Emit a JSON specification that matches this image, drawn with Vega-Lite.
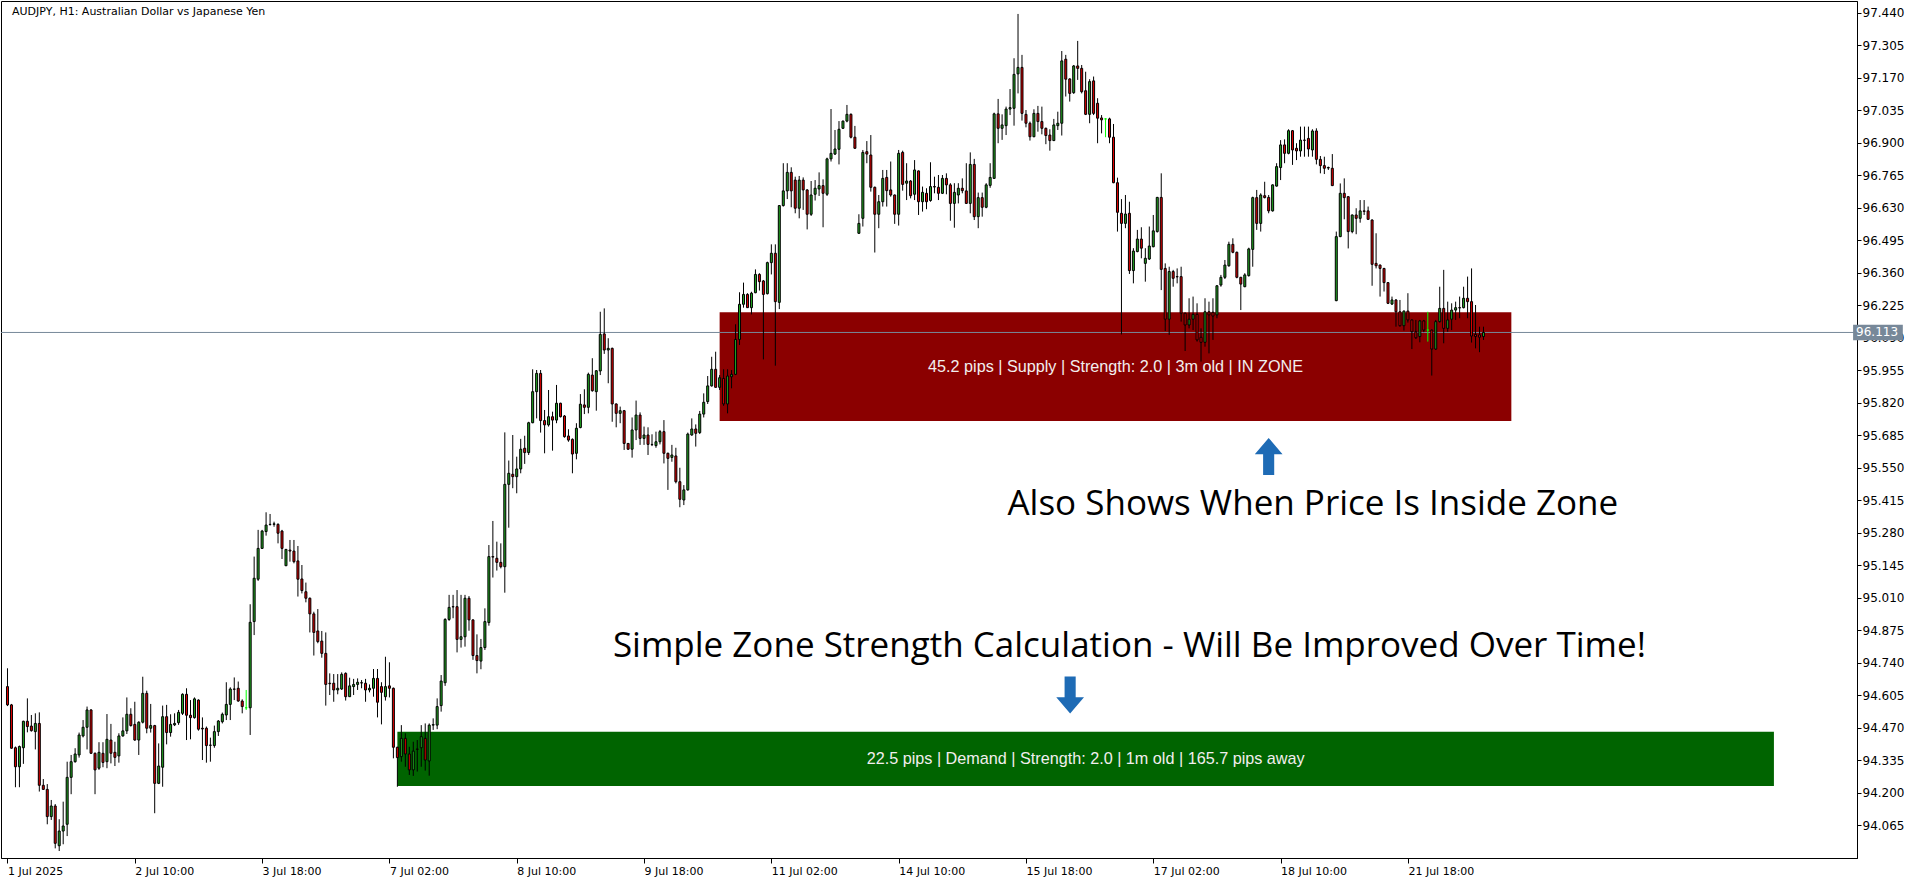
{
"$schema":"https://vega.github.io/schema/vega-lite/v6.json",
"width":1856,"height":857,
"autosize":{"type":"none"},
"padding":{"left":1,"top":1,"right":63,"bottom":25},
"background":"#ffffff",
"config":{"view":{"stroke":"#000000","strokeWidth":1},"axis":{"grid":false,"labelFont":"DejaVu Sans","labelFontSize":11,"labelColor":"#000000","domainColor":"#000000","tickColor":"#000000","labelFlush":false,"labelOverlap":false}},
"datasets":{
"zones":[{"kind":"Supply","i1":179,"i2":378,"p1":96.197,"p2":95.745},{"kind":"Demand","i1":98,"i2":444,"p1":94.454,"p2":94.229}],
"notes":[
{"kind":"zone","i":278.5,"p":95.971,"text":"45.2 pips | Supply | Strength: 2.0 | 3m old | IN ZONE"},
{"kind":"zone","i":271,"p":94.3415,"text":"22.5 pips | Demand | Strength: 2.0 | 1m old | 165.7 pips away"},
{"kind":"big","i":328.1,"p":95.353,"text":"Also Shows When Price Is Inside Zone"},
{"kind":"big","i":282.0,"p":94.763,"text":"Simple Zone Strength Calculation - Will Be Improved Over Time!"},
{"kind":"up","i":317,"p":95.598,"text":""},
{"kind":"down","i":267.1,"p":94.607,"text":""}],
"candles":[
{"i":0,"o":94.642,"h":94.718,"l":94.561,"c":94.566},
{"i":1,"o":94.566,"h":94.570,"l":94.384,"c":94.386},
{"i":2,"o":94.388,"h":94.393,"l":94.224,"c":94.309},
{"i":3,"o":94.309,"h":94.397,"l":94.224,"c":94.393},
{"i":4,"o":94.388,"h":94.500,"l":94.321,"c":94.498},
{"i":5,"o":94.498,"h":94.593,"l":94.452,"c":94.476},
{"i":6,"o":94.478,"h":94.524,"l":94.455,"c":94.459},
{"i":7,"o":94.455,"h":94.531,"l":94.381,"c":94.489},
{"i":8,"o":94.489,"h":94.535,"l":94.206,"c":94.232},
{"i":9,"o":94.232,"h":94.258,"l":94.213,"c":94.215},
{"i":10,"o":94.215,"h":94.237,"l":94.070,"c":94.102},
{"i":11,"o":94.102,"h":94.171,"l":94.088,"c":94.146},
{"i":12,"o":94.146,"h":94.154,"l":93.970,"c":93.991},
{"i":13,"o":93.981,"h":94.091,"l":93.959,"c":94.042},
{"i":14,"o":94.042,"h":94.164,"l":93.987,"c":94.063},
{"i":15,"o":94.070,"h":94.330,"l":94.021,"c":94.265},
{"i":16,"o":94.265,"h":94.358,"l":94.195,"c":94.330},
{"i":17,"o":94.330,"h":94.386,"l":94.326,"c":94.362},
{"i":18,"o":94.358,"h":94.451,"l":94.347,"c":94.441},
{"i":19,"o":94.437,"h":94.503,"l":94.431,"c":94.473},
{"i":20,"o":94.473,"h":94.559,"l":94.381,"c":94.545},
{"i":21,"o":94.545,"h":94.548,"l":94.362,"c":94.365},
{"i":22,"o":94.365,"h":94.368,"l":94.195,"c":94.296},
{"i":23,"o":94.303,"h":94.411,"l":94.296,"c":94.369},
{"i":24,"o":94.365,"h":94.411,"l":94.307,"c":94.327},
{"i":25,"o":94.330,"h":94.528,"l":94.303,"c":94.423},
{"i":26,"o":94.420,"h":94.487,"l":94.323,"c":94.365},
{"i":27,"o":94.369,"h":94.413,"l":94.312,"c":94.348},
{"i":28,"o":94.354,"h":94.448,"l":94.326,"c":94.437},
{"i":29,"o":94.437,"h":94.514,"l":94.434,"c":94.458},
{"i":30,"o":94.458,"h":94.597,"l":94.445,"c":94.527},
{"i":31,"o":94.527,"h":94.552,"l":94.476,"c":94.480},
{"i":32,"o":94.485,"h":94.579,"l":94.417,"c":94.420},
{"i":33,"o":94.420,"h":94.498,"l":94.358,"c":94.494},
{"i":34,"o":94.494,"h":94.683,"l":94.489,"c":94.614},
{"i":35,"o":94.614,"h":94.625,"l":94.448,"c":94.469},
{"i":36,"o":94.469,"h":94.570,"l":94.451,"c":94.480},
{"i":37,"o":94.480,"h":94.483,"l":94.116,"c":94.240},
{"i":38,"o":94.240,"h":94.406,"l":94.237,"c":94.312},
{"i":39,"o":94.307,"h":94.563,"l":94.226,"c":94.517},
{"i":40,"o":94.517,"h":94.566,"l":94.402,"c":94.451},
{"i":41,"o":94.451,"h":94.527,"l":94.434,"c":94.485},
{"i":42,"o":94.483,"h":94.531,"l":94.478,"c":94.489},
{"i":43,"o":94.492,"h":94.545,"l":94.483,"c":94.535},
{"i":44,"o":94.531,"h":94.614,"l":94.524,"c":94.610},
{"i":45,"o":94.610,"h":94.635,"l":94.420,"c":94.523},
{"i":46,"o":94.523,"h":94.586,"l":94.423,"c":94.513},
{"i":47,"o":94.513,"h":94.597,"l":94.509,"c":94.591},
{"i":48,"o":94.586,"h":94.589,"l":94.459,"c":94.465},
{"i":49,"o":94.469,"h":94.514,"l":94.337,"c":94.466},
{"i":50,"o":94.469,"h":94.476,"l":94.326,"c":94.397},
{"i":51,"o":94.399,"h":94.430,"l":94.330,"c":94.398},
{"i":52,"o":94.397,"h":94.480,"l":94.388,"c":94.455},
{"i":53,"o":94.455,"h":94.503,"l":94.437,"c":94.499},
{"i":54,"o":94.496,"h":94.534,"l":94.489,"c":94.527},
{"i":55,"o":94.524,"h":94.660,"l":94.503,"c":94.568},
{"i":56,"o":94.568,"h":94.639,"l":94.503,"c":94.632},
{"i":57,"o":94.632,"h":94.680,"l":94.586,"c":94.631},
{"i":58,"o":94.635,"h":94.663,"l":94.579,"c":94.582},
{"i":59,"o":94.582,"h":94.589,"l":94.531,"c":94.559},
{"i":60,"o":94.554,"h":94.628,"l":94.545,"c":94.554},
{"i":61,"o":94.554,"h":94.984,"l":94.441,"c":94.909},
{"i":62,"o":94.912,"h":95.182,"l":94.856,"c":95.092},
{"i":63,"o":95.088,"h":95.293,"l":95.081,"c":95.216},
{"i":64,"o":95.216,"h":95.293,"l":95.214,"c":95.288},
{"i":65,"o":95.286,"h":95.366,"l":95.269,"c":95.313},
{"i":66,"o":95.315,"h":95.359,"l":95.311,"c":95.316},
{"i":67,"o":95.316,"h":95.327,"l":95.306,"c":95.318},
{"i":68,"o":95.316,"h":95.320,"l":95.237,"c":95.279},
{"i":69,"o":95.288,"h":95.293,"l":95.172,"c":95.216},
{"i":70,"o":95.144,"h":95.212,"l":95.144,"c":95.212},
{"i":71,"o":95.209,"h":95.251,"l":95.161,"c":95.205},
{"i":72,"o":95.205,"h":95.251,"l":95.154,"c":95.161},
{"i":73,"o":95.164,"h":95.226,"l":95.016,"c":95.088},
{"i":74,"o":95.089,"h":95.147,"l":95.029,"c":95.041},
{"i":75,"o":95.036,"h":95.074,"l":94.992,"c":95.009},
{"i":76,"o":95.009,"h":95.012,"l":94.867,"c":94.944},
{"i":77,"o":94.944,"h":94.953,"l":94.771,"c":94.867},
{"i":78,"o":94.873,"h":94.964,"l":94.822,"c":94.829},
{"i":79,"o":94.831,"h":94.873,"l":94.762,"c":94.780},
{"i":80,"o":94.780,"h":94.867,"l":94.563,"c":94.651},
{"i":81,"o":94.656,"h":94.697,"l":94.607,"c":94.654},
{"i":82,"o":94.656,"h":94.694,"l":94.579,"c":94.628},
{"i":83,"o":94.628,"h":94.694,"l":94.610,"c":94.635},
{"i":84,"o":94.632,"h":94.701,"l":94.628,"c":94.693},
{"i":85,"o":94.697,"h":94.701,"l":94.584,"c":94.600},
{"i":86,"o":94.600,"h":94.679,"l":94.600,"c":94.645},
{"i":87,"o":94.642,"h":94.674,"l":94.607,"c":94.651},
{"i":88,"o":94.651,"h":94.676,"l":94.628,"c":94.660},
{"i":89,"o":94.658,"h":94.669,"l":94.635,"c":94.657},
{"i":90,"o":94.656,"h":94.674,"l":94.579,"c":94.628},
{"i":91,"o":94.628,"h":94.651,"l":94.618,"c":94.635},
{"i":92,"o":94.635,"h":94.715,"l":94.600,"c":94.676},
{"i":93,"o":94.676,"h":94.715,"l":94.514,"c":94.577},
{"i":94,"o":94.642,"h":94.660,"l":94.485,"c":94.618},
{"i":95,"o":94.600,"h":94.766,"l":94.584,"c":94.642},
{"i":96,"o":94.645,"h":94.743,"l":94.597,"c":94.635},
{"i":97,"o":94.635,"h":94.638,"l":94.344,"c":94.390},
{"i":98,"o":94.390,"h":94.392,"l":94.226,"c":94.347},
{"i":99,"o":94.351,"h":94.482,"l":94.330,"c":94.427},
{"i":100,"o":94.427,"h":94.448,"l":94.309,"c":94.362},
{"i":101,"o":94.362,"h":94.392,"l":94.275,"c":94.296},
{"i":102,"o":94.296,"h":94.413,"l":94.271,"c":94.374},
{"i":103,"o":94.383,"h":94.420,"l":94.289,"c":94.381},
{"i":104,"o":94.388,"h":94.482,"l":94.309,"c":94.434},
{"i":105,"o":94.427,"h":94.489,"l":94.293,"c":94.337},
{"i":106,"o":94.333,"h":94.489,"l":94.272,"c":94.482},
{"i":107,"o":94.482,"h":94.510,"l":94.462,"c":94.484},
{"i":108,"o":94.482,"h":94.593,"l":94.465,"c":94.559},
{"i":109,"o":94.563,"h":94.690,"l":94.538,"c":94.665},
{"i":110,"o":94.658,"h":94.926,"l":94.645,"c":94.921},
{"i":111,"o":94.921,"h":95.023,"l":94.915,"c":94.971},
{"i":112,"o":94.974,"h":95.023,"l":94.926,"c":94.973},
{"i":113,"o":94.974,"h":95.043,"l":94.784,"c":94.838},
{"i":114,"o":94.838,"h":95.023,"l":94.804,"c":94.849},
{"i":115,"o":94.849,"h":95.023,"l":94.808,"c":95.009},
{"i":116,"o":95.009,"h":95.018,"l":94.874,"c":94.919},
{"i":117,"o":94.919,"h":94.921,"l":94.753,"c":94.771},
{"i":118,"o":94.771,"h":94.859,"l":94.697,"c":94.750},
{"i":119,"o":94.748,"h":94.840,"l":94.714,"c":94.804},
{"i":120,"o":94.804,"h":94.967,"l":94.794,"c":94.912},
{"i":121,"o":94.908,"h":95.230,"l":94.895,"c":95.182},
{"i":122,"o":95.182,"h":95.330,"l":95.095,"c":95.180},
{"i":123,"o":95.175,"h":95.244,"l":95.124,"c":95.158},
{"i":124,"o":95.158,"h":95.237,"l":95.133,"c":95.140},
{"i":125,"o":95.140,"h":95.698,"l":95.032,"c":95.482},
{"i":126,"o":95.482,"h":95.581,"l":95.302,"c":95.528},
{"i":127,"o":95.524,"h":95.687,"l":95.466,"c":95.514},
{"i":128,"o":95.514,"h":95.597,"l":95.445,"c":95.546},
{"i":129,"o":95.546,"h":95.671,"l":95.528,"c":95.628},
{"i":130,"o":95.632,"h":95.684,"l":95.567,"c":95.614},
{"i":131,"o":95.614,"h":95.742,"l":95.604,"c":95.738},
{"i":132,"o":95.738,"h":95.960,"l":95.736,"c":95.867},
{"i":133,"o":95.867,"h":95.957,"l":95.756,"c":95.943},
{"i":134,"o":95.943,"h":95.957,"l":95.697,"c":95.747},
{"i":135,"o":95.747,"h":95.791,"l":95.611,"c":95.729},
{"i":136,"o":95.729,"h":95.874,"l":95.722,"c":95.763},
{"i":137,"o":95.763,"h":95.784,"l":95.622,"c":95.749},
{"i":138,"o":95.749,"h":95.895,"l":95.736,"c":95.819},
{"i":139,"o":95.819,"h":95.821,"l":95.760,"c":95.763},
{"i":140,"o":95.766,"h":95.770,"l":95.676,"c":95.680},
{"i":141,"o":95.683,"h":95.711,"l":95.659,"c":95.666},
{"i":142,"o":95.669,"h":95.673,"l":95.528,"c":95.608},
{"i":143,"o":95.611,"h":95.736,"l":95.586,"c":95.715},
{"i":144,"o":95.718,"h":95.857,"l":95.715,"c":95.815},
{"i":145,"o":95.812,"h":95.877,"l":95.774,"c":95.802},
{"i":146,"o":95.802,"h":95.946,"l":95.777,"c":95.939},
{"i":147,"o":95.936,"h":96.006,"l":95.867,"c":95.871},
{"i":148,"o":95.867,"h":95.957,"l":95.788,"c":95.954},
{"i":149,"o":95.953,"h":96.199,"l":95.936,"c":96.105},
{"i":150,"o":96.107,"h":96.213,"l":96.024,"c":96.040},
{"i":151,"o":96.040,"h":96.089,"l":95.902,"c":96.047},
{"i":152,"o":96.047,"h":96.050,"l":95.742,"c":95.816},
{"i":153,"o":95.816,"h":95.818,"l":95.719,"c":95.777},
{"i":154,"o":95.777,"h":95.805,"l":95.736,"c":95.788},
{"i":155,"o":95.788,"h":95.791,"l":95.625,"c":95.652},
{"i":156,"o":95.652,"h":95.654,"l":95.625,"c":95.628},
{"i":157,"o":95.628,"h":95.760,"l":95.593,"c":95.708},
{"i":158,"o":95.708,"h":95.830,"l":95.666,"c":95.770},
{"i":159,"o":95.770,"h":95.781,"l":95.646,"c":95.673},
{"i":160,"o":95.673,"h":95.722,"l":95.646,"c":95.687},
{"i":161,"o":95.687,"h":95.719,"l":95.604,"c":95.648},
{"i":162,"o":95.648,"h":95.690,"l":95.641,"c":95.647},
{"i":163,"o":95.643,"h":95.701,"l":95.634,"c":95.659},
{"i":164,"o":95.659,"h":95.708,"l":95.648,"c":95.701},
{"i":165,"o":95.701,"h":95.749,"l":95.569,"c":95.611},
{"i":166,"o":95.611,"h":95.614,"l":95.459,"c":95.590},
{"i":167,"o":95.594,"h":95.646,"l":95.576,"c":95.604},
{"i":168,"o":95.600,"h":95.634,"l":95.486,"c":95.493},
{"i":169,"o":95.493,"h":95.551,"l":95.387,"c":95.420},
{"i":170,"o":95.417,"h":95.479,"l":95.396,"c":95.459},
{"i":171,"o":95.459,"h":95.697,"l":95.456,"c":95.691},
{"i":172,"o":95.687,"h":95.756,"l":95.684,"c":95.712},
{"i":173,"o":95.712,"h":95.731,"l":95.639,"c":95.694},
{"i":174,"o":95.697,"h":95.787,"l":95.691,"c":95.774},
{"i":175,"o":95.774,"h":95.860,"l":95.760,"c":95.823},
{"i":176,"o":95.826,"h":95.932,"l":95.816,"c":95.891},
{"i":177,"o":95.891,"h":96.012,"l":95.888,"c":95.960},
{"i":178,"o":95.960,"h":96.033,"l":95.885,"c":95.885},
{"i":179,"o":95.885,"h":95.936,"l":95.874,"c":95.925},
{"i":180,"o":95.922,"h":95.960,"l":95.808,"c":95.816},
{"i":181,"o":95.816,"h":95.960,"l":95.777,"c":95.932},
{"i":182,"o":95.929,"h":95.957,"l":95.881,"c":95.939},
{"i":183,"o":95.939,"h":96.147,"l":95.936,"c":96.084},
{"i":184,"o":96.084,"h":96.280,"l":96.061,"c":96.230},
{"i":185,"o":96.230,"h":96.320,"l":96.216,"c":96.271},
{"i":186,"o":96.271,"h":96.276,"l":96.216,"c":96.216},
{"i":187,"o":96.216,"h":96.282,"l":96.188,"c":96.276},
{"i":188,"o":96.278,"h":96.375,"l":96.276,"c":96.354},
{"i":189,"o":96.354,"h":96.359,"l":96.287,"c":96.324},
{"i":190,"o":96.327,"h":96.331,"l":96.001,"c":96.271},
{"i":191,"o":96.274,"h":96.407,"l":96.271,"c":96.403},
{"i":192,"o":96.403,"h":96.479,"l":96.354,"c":96.442},
{"i":193,"o":96.442,"h":96.479,"l":95.975,"c":96.241},
{"i":194,"o":96.238,"h":96.642,"l":96.210,"c":96.640},
{"i":195,"o":96.640,"h":96.816,"l":96.636,"c":96.701},
{"i":196,"o":96.701,"h":96.816,"l":96.667,"c":96.778},
{"i":197,"o":96.778,"h":96.799,"l":96.633,"c":96.701},
{"i":198,"o":96.746,"h":96.760,"l":96.608,"c":96.629},
{"i":199,"o":96.629,"h":96.763,"l":96.587,"c":96.746},
{"i":200,"o":96.746,"h":96.757,"l":96.622,"c":96.705},
{"i":201,"o":96.705,"h":96.708,"l":96.541,"c":96.604},
{"i":202,"o":96.604,"h":96.742,"l":96.597,"c":96.684},
{"i":203,"o":96.687,"h":96.746,"l":96.661,"c":96.712},
{"i":204,"o":96.709,"h":96.778,"l":96.680,"c":96.723},
{"i":205,"o":96.723,"h":96.749,"l":96.550,"c":96.691},
{"i":206,"o":96.687,"h":96.839,"l":96.680,"c":96.834},
{"i":207,"o":96.834,"h":97.041,"l":96.823,"c":96.857},
{"i":208,"o":96.854,"h":96.954,"l":96.850,"c":96.875},
{"i":209,"o":96.874,"h":96.991,"l":96.811,"c":96.957},
{"i":210,"o":96.961,"h":96.993,"l":96.958,"c":96.991},
{"i":211,"o":96.991,"h":97.058,"l":96.986,"c":97.019},
{"i":212,"o":97.019,"h":97.023,"l":96.919,"c":96.924},
{"i":213,"o":96.924,"h":96.971,"l":96.876,"c":96.878},
{"i":214,"o":96.525,"h":96.604,"l":96.522,"c":96.566},
{"i":215,"o":96.587,"h":96.871,"l":96.553,"c":96.861},
{"i":216,"o":96.864,"h":96.908,"l":96.816,"c":96.854},
{"i":217,"o":96.850,"h":96.933,"l":96.698,"c":96.716},
{"i":218,"o":96.716,"h":96.719,"l":96.445,"c":96.604},
{"i":219,"o":96.604,"h":96.684,"l":96.546,"c":96.656},
{"i":220,"o":96.656,"h":96.788,"l":96.636,"c":96.753},
{"i":221,"o":96.757,"h":96.788,"l":96.636,"c":96.702},
{"i":222,"o":96.705,"h":96.823,"l":96.677,"c":96.684},
{"i":223,"o":96.684,"h":96.686,"l":96.564,"c":96.604},
{"i":224,"o":96.604,"h":96.871,"l":96.557,"c":96.857},
{"i":225,"o":96.861,"h":96.868,"l":96.702,"c":96.728},
{"i":226,"o":96.733,"h":96.816,"l":96.663,"c":96.742},
{"i":227,"o":96.742,"h":96.746,"l":96.670,"c":96.681},
{"i":228,"o":96.687,"h":96.829,"l":96.663,"c":96.788},
{"i":229,"o":96.784,"h":96.786,"l":96.601,"c":96.656},
{"i":230,"o":96.656,"h":96.719,"l":96.615,"c":96.695},
{"i":231,"o":96.691,"h":96.712,"l":96.625,"c":96.656},
{"i":232,"o":96.661,"h":96.820,"l":96.656,"c":96.719},
{"i":233,"o":96.719,"h":96.760,"l":96.691,"c":96.717},
{"i":234,"o":96.716,"h":96.767,"l":96.663,"c":96.691},
{"i":235,"o":96.691,"h":96.767,"l":96.688,"c":96.753},
{"i":236,"o":96.753,"h":96.774,"l":96.687,"c":96.726},
{"i":237,"o":96.726,"h":96.733,"l":96.577,"c":96.649},
{"i":238,"o":96.649,"h":96.733,"l":96.548,"c":96.695},
{"i":239,"o":96.684,"h":96.733,"l":96.649,"c":96.712},
{"i":240,"o":96.712,"h":96.753,"l":96.691,"c":96.702},
{"i":241,"o":96.701,"h":96.816,"l":96.647,"c":96.649},
{"i":242,"o":96.649,"h":96.861,"l":96.608,"c":96.811},
{"i":243,"o":96.811,"h":96.834,"l":96.580,"c":96.594},
{"i":244,"o":96.594,"h":96.694,"l":96.546,"c":96.673},
{"i":245,"o":96.673,"h":96.694,"l":96.594,"c":96.633},
{"i":246,"o":96.633,"h":96.733,"l":96.629,"c":96.726},
{"i":247,"o":96.724,"h":96.816,"l":96.714,"c":96.757},
{"i":248,"o":96.753,"h":97.026,"l":96.751,"c":97.021},
{"i":249,"o":97.021,"h":97.083,"l":96.899,"c":96.961},
{"i":250,"o":96.961,"h":97.019,"l":96.913,"c":96.975},
{"i":251,"o":96.972,"h":97.051,"l":96.933,"c":97.041},
{"i":252,"o":97.041,"h":97.124,"l":97.016,"c":97.047},
{"i":253,"o":97.044,"h":97.252,"l":96.972,"c":97.185},
{"i":254,"o":97.187,"h":97.436,"l":97.106,"c":97.214},
{"i":255,"o":97.214,"h":97.266,"l":96.993,"c":97.023},
{"i":256,"o":97.019,"h":97.037,"l":96.965,"c":96.982},
{"i":257,"o":96.982,"h":96.989,"l":96.910,"c":96.926},
{"i":258,"o":96.926,"h":97.040,"l":96.924,"c":97.023},
{"i":259,"o":97.023,"h":97.054,"l":96.947,"c":96.989},
{"i":260,"o":96.989,"h":97.051,"l":96.936,"c":96.961},
{"i":261,"o":96.961,"h":96.964,"l":96.895,"c":96.931},
{"i":262,"o":96.933,"h":96.957,"l":96.868,"c":96.910},
{"i":263,"o":96.910,"h":97.000,"l":96.908,"c":96.975},
{"i":264,"o":96.972,"h":97.030,"l":96.954,"c":96.982},
{"i":265,"o":96.982,"h":97.282,"l":96.931,"c":97.241},
{"i":266,"o":97.248,"h":97.266,"l":97.093,"c":97.165},
{"i":267,"o":97.166,"h":97.169,"l":97.072,"c":97.106},
{"i":268,"o":97.109,"h":97.224,"l":97.104,"c":97.220},
{"i":269,"o":97.220,"h":97.324,"l":97.162,"c":97.210},
{"i":270,"o":97.210,"h":97.224,"l":97.106,"c":97.113},
{"i":271,"o":97.117,"h":97.196,"l":97.016,"c":97.019},
{"i":272,"o":97.019,"h":97.165,"l":96.982,"c":97.155},
{"i":273,"o":97.158,"h":97.176,"l":97.016,"c":97.023},
{"i":274,"o":97.065,"h":97.086,"l":96.899,"c":97.003},
{"i":275,"o":97.004,"h":97.016,"l":96.940,"c":96.996},
{"i":276,"o":97.000,"h":97.003,"l":96.924,"c":97.000},
{"i":277,"o":97.000,"h":97.005,"l":96.899,"c":96.924},
{"i":278,"o":96.924,"h":96.979,"l":96.733,"c":96.735},
{"i":279,"o":96.735,"h":96.756,"l":96.532,"c":96.612},
{"i":280,"o":96.608,"h":96.667,"l":96.105,"c":96.566},
{"i":281,"o":96.566,"h":96.684,"l":96.546,"c":96.605},
{"i":282,"o":96.608,"h":96.656,"l":96.356,"c":96.370},
{"i":283,"o":96.370,"h":96.463,"l":96.317,"c":96.451},
{"i":284,"o":96.449,"h":96.539,"l":96.446,"c":96.501},
{"i":285,"o":96.501,"h":96.550,"l":96.421,"c":96.463},
{"i":286,"o":96.400,"h":96.463,"l":96.324,"c":96.421},
{"i":287,"o":96.418,"h":96.553,"l":96.414,"c":96.472},
{"i":288,"o":96.469,"h":96.601,"l":96.467,"c":96.535},
{"i":289,"o":96.532,"h":96.676,"l":96.528,"c":96.674},
{"i":290,"o":96.674,"h":96.774,"l":96.289,"c":96.375},
{"i":291,"o":96.379,"h":96.400,"l":96.119,"c":96.168},
{"i":292,"o":96.168,"h":96.386,"l":96.103,"c":96.366},
{"i":293,"o":96.366,"h":96.373,"l":96.303,"c":96.338},
{"i":294,"o":96.345,"h":96.379,"l":96.317,"c":96.344},
{"i":295,"o":96.345,"h":96.386,"l":96.158,"c":96.193},
{"i":296,"o":96.193,"h":96.195,"l":96.036,"c":96.144},
{"i":297,"o":96.144,"h":96.255,"l":96.130,"c":96.168},
{"i":298,"o":96.168,"h":96.262,"l":96.123,"c":96.188},
{"i":299,"o":96.188,"h":96.234,"l":96.075,"c":96.082},
{"i":300,"o":96.093,"h":96.130,"l":95.992,"c":96.072},
{"i":301,"o":96.072,"h":96.255,"l":96.054,"c":96.199},
{"i":302,"o":96.199,"h":96.241,"l":96.026,"c":96.186},
{"i":303,"o":96.197,"h":96.255,"l":96.082,"c":96.181},
{"i":304,"o":96.186,"h":96.309,"l":96.172,"c":96.307},
{"i":305,"o":96.310,"h":96.352,"l":96.303,"c":96.342},
{"i":306,"o":96.342,"h":96.414,"l":96.335,"c":96.393},
{"i":307,"o":96.390,"h":96.490,"l":96.386,"c":96.479},
{"i":308,"o":96.479,"h":96.504,"l":96.442,"c":96.446},
{"i":309,"o":96.446,"h":96.449,"l":96.338,"c":96.342},
{"i":310,"o":96.342,"h":96.344,"l":96.206,"c":96.314},
{"i":311,"o":96.303,"h":96.359,"l":96.301,"c":96.352},
{"i":312,"o":96.349,"h":96.465,"l":96.345,"c":96.460},
{"i":313,"o":96.458,"h":96.677,"l":96.386,"c":96.673},
{"i":314,"o":96.673,"h":96.705,"l":96.539,"c":96.566},
{"i":315,"o":96.566,"h":96.691,"l":96.532,"c":96.684},
{"i":316,"o":96.681,"h":96.739,"l":96.670,"c":96.673},
{"i":317,"o":96.674,"h":96.684,"l":96.608,"c":96.618},
{"i":318,"o":96.618,"h":96.728,"l":96.615,"c":96.726},
{"i":319,"o":96.721,"h":96.816,"l":96.719,"c":96.802},
{"i":320,"o":96.798,"h":96.912,"l":96.746,"c":96.892},
{"i":321,"o":96.892,"h":96.915,"l":96.816,"c":96.857},
{"i":322,"o":96.857,"h":96.957,"l":96.853,"c":96.951},
{"i":323,"o":96.951,"h":96.954,"l":96.809,"c":96.871},
{"i":324,"o":96.878,"h":96.899,"l":96.829,"c":96.867},
{"i":325,"o":96.867,"h":96.968,"l":96.843,"c":96.912},
{"i":326,"o":96.912,"h":96.968,"l":96.843,"c":96.911},
{"i":327,"o":96.919,"h":96.968,"l":96.843,"c":96.875},
{"i":328,"o":96.871,"h":96.957,"l":96.843,"c":96.950},
{"i":329,"o":96.950,"h":96.961,"l":96.811,"c":96.832},
{"i":330,"o":96.832,"h":96.846,"l":96.774,"c":96.806},
{"i":331,"o":96.806,"h":96.843,"l":96.771,"c":96.795},
{"i":332,"o":96.798,"h":96.802,"l":96.788,"c":96.796},
{"i":333,"o":96.795,"h":96.854,"l":96.721,"c":96.723},
{"i":334,"o":96.245,"h":96.532,"l":96.243,"c":96.511},
{"i":335,"o":96.511,"h":96.732,"l":96.509,"c":96.691},
{"i":336,"o":96.691,"h":96.753,"l":96.583,"c":96.673},
{"i":337,"o":96.677,"h":96.679,"l":96.462,"c":96.532},
{"i":338,"o":96.532,"h":96.603,"l":96.525,"c":96.601},
{"i":339,"o":96.601,"h":96.629,"l":96.521,"c":96.587},
{"i":340,"o":96.587,"h":96.663,"l":96.569,"c":96.618},
{"i":341,"o":96.618,"h":96.663,"l":96.601,"c":96.616},
{"i":342,"o":96.618,"h":96.636,"l":96.580,"c":96.583},
{"i":343,"o":96.580,"h":96.583,"l":96.307,"c":96.396},
{"i":344,"o":96.400,"h":96.525,"l":96.379,"c":96.390},
{"i":345,"o":96.393,"h":96.395,"l":96.262,"c":96.379},
{"i":346,"o":96.379,"h":96.381,"l":96.283,"c":96.320},
{"i":347,"o":96.320,"h":96.322,"l":96.231,"c":96.234},
{"i":348,"o":96.231,"h":96.262,"l":96.227,"c":96.248},
{"i":349,"o":96.248,"h":96.251,"l":96.137,"c":96.199},
{"i":350,"o":96.199,"h":96.248,"l":96.137,"c":96.141},
{"i":351,"o":96.141,"h":96.204,"l":96.121,"c":96.202},
{"i":352,"o":96.202,"h":96.276,"l":96.154,"c":96.165},
{"i":353,"o":96.165,"h":96.167,"l":96.044,"c":96.116},
{"i":354,"o":96.116,"h":96.165,"l":96.086,"c":96.091},
{"i":355,"o":96.096,"h":96.165,"l":96.072,"c":96.161},
{"i":356,"o":96.161,"h":96.165,"l":96.114,"c":96.123},
{"i":357,"o":96.123,"h":96.199,"l":96.075,"c":96.123},
{"i":358,"o":96.123,"h":96.125,"l":95.934,"c":96.044},
{"i":359,"o":96.044,"h":96.165,"l":96.040,"c":96.158},
{"i":360,"o":96.158,"h":96.303,"l":96.154,"c":96.213},
{"i":361,"o":96.213,"h":96.373,"l":96.068,"c":96.130},
{"i":362,"o":96.130,"h":96.241,"l":96.116,"c":96.165},
{"i":363,"o":96.168,"h":96.234,"l":96.123,"c":96.206},
{"i":364,"o":96.206,"h":96.241,"l":96.165,"c":96.216},
{"i":365,"o":96.216,"h":96.262,"l":96.172,"c":96.215},
{"i":366,"o":96.216,"h":96.303,"l":96.213,"c":96.255},
{"i":367,"o":96.255,"h":96.345,"l":96.172,"c":96.241},
{"i":368,"o":96.241,"h":96.379,"l":96.071,"c":96.098},
{"i":369,"o":96.105,"h":96.227,"l":96.047,"c":96.096},
{"i":370,"o":96.103,"h":96.137,"l":96.031,"c":96.093},
{"i":371,"o":96.096,"h":96.137,"l":96.082,"c":96.113}
]},
"layer":[
{"data":{"name":"zones"},"mark":{"type":"rect"},
 "encoding":{"x":{"field":"i1","type":"quantitative","scale":{"domain":[-0.375,463.625],"nice":false,"zero":false},
   "axis":{"title":null,"values":[0,32,64,96,128,160,192,224,256,288,320,352],"tickCount":60,"labelExpr":"['1 Jul 2025','2 Jul 10:00','3 Jul 18:00','7 Jul 02:00','8 Jul 10:00','9 Jul 18:00','11 Jul 02:00','14 Jul 10:00','15 Jul 18:00','17 Jul 02:00','18 Jul 10:00','21 Jul 18:00'][round(datum.value/32)]","labelAlign":"left","labelBaseline":"top","tickSize":5,"labelPadding":2,"labelOverlap":false,"labelBound":false}},
  "x2":{"field":"i2"},
  "y":{"field":"p1","type":"quantitative","scale":{"domain":[93.930,97.4898],"nice":false,"zero":false},
   "axis":{"title":null,"orient":"right","values":[94.065,94.2,94.335,94.47,94.605,94.74,94.875,95.01,95.145,95.28,95.415,95.55,95.685,95.82,95.955,96.09,96.225,96.36,96.495,96.63,96.765,96.9,97.035,97.17,97.305,97.44],"tickCount":60,"format":".3f","tickSize":4,"labelPadding":1,"labelBaseline":"middle","labelFontSize":12,"labelOverlap":false,"labelBound":false}},
  "y2":{"field":"p2"},
  "color":{"field":"kind","type":"nominal","scale":{"domain":["Supply","Demand"],"range":["#8b0000","#006400"]},"legend":null}}},
{"data":{"name":"notes"},"transform":[{"filter":"datum.kind == 'zone'"}],
 "mark":{"type":"text","font":"Liberation Sans","fontSize":16.2,"color":"#f2eeee","align":"center","baseline":"middle"},
 "encoding":{"x":{"field":"i","type":"quantitative"},"y":{"field":"p","type":"quantitative"},"text":{"field":"text"}}},
{"data":{"values":[{"p":96.113}]},"mark":{"type":"rule","color":"#778899","strokeWidth":1},
 "encoding":{"y":{"field":"p","type":"quantitative"}}},
{"data":{"name":"candles"},"mark":{"type":"rule","strokeWidth":1},
 "encoding":{"x":{"field":"i","type":"quantitative"},"y":{"field":"l","type":"quantitative"},"y2":{"field":"h"},
  "color":{"condition":{"test":"datum.o == datum.c","value":"#00ff00"},"value":"#000000"}}},
{"data":{"name":"candles"},"mark":{"type":"bar","width":2,"strokeWidth":1},
 "encoding":{"x":{"field":"i","type":"quantitative"},"y":{"field":"o","type":"quantitative"},"y2":{"field":"c"},
  "color":{"condition":[{"test":"datum.c > datum.o","value":"#22a522"},{"test":"datum.c < datum.o","value":"#dd0000"}],"value":"#00ff00"},
  "stroke":{"condition":{"test":"datum.o == datum.c","value":"#00ff00"},"value":"#000000"}}},
{"data":{"name":"notes"},"transform":[{"filter":"datum.kind == 'big'"}],
 "mark":{"type":"text","font":"Open Sans","fontSize":35,"color":"#000000","align":"center","baseline":"alphabetic"},
 "encoding":{"x":{"field":"i","type":"quantitative"},"y":{"field":"p","type":"quantitative"},"text":{"field":"text"}}},
{"data":{"name":"notes"},"transform":[{"filter":"datum.kind == 'up'"}],
 "mark":{"type":"point","filled":true,"opacity":1,"color":"#1e6bb5","size":1369,"shape":"M0,-1L0.75,-0.12L0.3,-0.12L0.3,1L-0.3,1L-0.3,-0.12L-0.75,-0.12Z"},
 "encoding":{"x":{"field":"i","type":"quantitative"},"y":{"field":"p","type":"quantitative"}}},
{"data":{"name":"notes"},"transform":[{"filter":"datum.kind == 'down'"}],
 "mark":{"type":"point","filled":true,"opacity":1,"color":"#1e6bb5","size":1369,"shape":"M0,1L0.75,0.12L0.3,0.12L0.3,-1L-0.3,-1L-0.3,0.12L-0.75,0.12Z"},
 "encoding":{"x":{"field":"i","type":"quantitative"},"y":{"field":"p","type":"quantitative"}}},
{"data":{"values":[{"t":"AUDJPY, H1:  Australian Dollar vs Japanese Yen","x":-0.375,"p":97.444}]},
 "mark":{"type":"text","font":"DejaVu Sans","fontSize":11,"color":"#000000","align":"left","baseline":"middle","dx":6},
 "encoding":{"x":{"field":"x","type":"quantitative"},"y":{"field":"p","type":"quantitative"},"text":{"field":"t"}}},
{"data":{"values":[{"x":463.9,"x2":476.4,"p":96.145,"p2":96.081}]},"mark":{"type":"rect","color":"#778899"},
 "encoding":{"x":{"field":"x","type":"quantitative"},"x2":{"field":"x2"},"y":{"field":"p","type":"quantitative"},"y2":{"field":"p2"}}},
{"data":{"values":[{"x":463.9,"p":96.113}]},"mark":{"type":"text","font":"DejaVu Sans","fontSize":12,"color":"#ffffff","align":"left","baseline":"middle","dx":3},
 "encoding":{"x":{"field":"x","type":"quantitative"},"y":{"field":"p","type":"quantitative"},"text":{"field":"p","type":"quantitative","format":".3f"}}}
]
}
